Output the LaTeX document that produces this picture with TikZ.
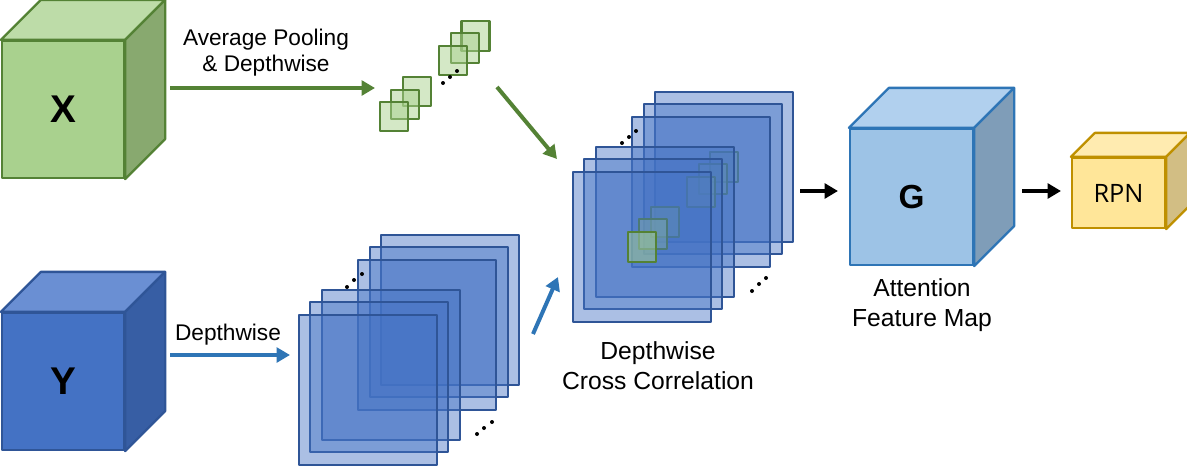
\documentclass[tikz,border=0pt]{standalone}
\usepackage{fontspec}
\setmainfont{Liberation Sans}
\newfontfamily\rpnfont{Open Sans}
\usepackage{xcolor}
\usepackage{tikz}
\usetikzlibrary{positioning,arrows.meta}

\definecolor{verdeBordo}{HTML}{548235}
\definecolor{verdeFronte}{HTML}{A9D18E}
\definecolor{verdeSopra}{HTML}{BDDCA8}
\definecolor{verdeLato}{HTML}{88A96F}
\definecolor{bluBordo}{HTML}{2F5597}
\definecolor{bluFronte}{HTML}{4472C4}
\definecolor{bluSopra}{HTML}{6A8FD3}
\definecolor{bluLato}{HTML}{375EA4}
\definecolor{azzurroBordo}{HTML}{2E75B6}
\definecolor{azzurroFronte}{HTML}{9DC3E6}
\definecolor{azzurroSopra}{HTML}{B1D0EE}
\definecolor{azzurroLato}{HTML}{7F9DB8}
\definecolor{gialloBordo}{HTML}{BF9000}
\definecolor{gialloFronte}{HTML}{FFE699}
\definecolor{gialloSopra}{HTML}{FFEBB0}
\definecolor{gialloLato}{HTML}{D2BE84}

\begin{document}
\begin{tikzpicture}[x=0.75pt, y=-0.75pt, line join=round,
    cubo/.style={draw, line width=1.7pt, inner sep=0pt, minimum width=91.5pt, minimum height=102.75pt, font=\bfseries\fontsize{29}{29}\selectfont},
    foglio/.style={draw=bluBordo, fill=bluFronte, fill opacity=0.45, line width=1.7pt, inner sep=0pt, minimum width=103.5pt, minimum height=112.5pt},
    quadretto/.style={draw=verdeBordo, fill=verdeFronte, fill opacity=0.5, line width=1.7pt, inner sep=0pt, minimum width=21pt, minimum height=22pt},
    freccia/.style={line width=3pt, -{Triangle[length=10pt,width=11pt]}},
    testo/.style={align=center, font=\fontsize{18.5}{22.5}\selectfont}]
      \useasboundingbox (0,0) rectangle (1187,468);

      % Cubo X
      \node (X) at (63,109.5) [cubo, draw=verdeBordo, fill=verdeFronte] {X};
      \path (X.north east) ++(40,-40) coordinate (X-ne);
      \path (X.south east) ++(40,-40) coordinate (X-se);
      \draw[verdeBordo, line width=1.7pt, fill=verdeSopra] (X.north west) -- ++(40,-40) -- (X-ne) -- (X.north east) -- cycle;
      \draw[verdeBordo, line width=1.7pt, fill=verdeLato] (X.north east) -- (X-ne) -- (X-se) -- (X.south east) -- cycle;

      % Cubo Y
      \node (Y) at (63,381.5) [cubo, draw=bluBordo, fill=bluFronte] {Y};
      \path (Y.north east) ++(40,-40) coordinate (Y-ne);
      \path (Y.south east) ++(40,-40) coordinate (Y-se);
      \draw[bluBordo, line width=1.7pt, fill=bluSopra] (Y.north west) -- ++(40,-40) -- (Y-ne) -- (Y.north east) -- cycle;
      \draw[bluBordo, line width=1.7pt, fill=bluLato] (Y.north east) -- (Y-ne) -- (Y-se) -- (Y.south east) -- cycle;

      % Fogli in basso
      \node (c1) at (450,310) [foglio] {};
      \node (c2) at (439,322) [foglio] {};
      \node (c3) at (427,335) [foglio] {};
      \node (c4) at (391,365) [foglio] {};
      \node (c5) at (379,377) [foglio] {};
      \node (c6) at (368,390) [foglio] {};

      % Quadretti in alto
      \node (s1) at (475.5,36) [quadretto] {};
      \node (s2) at (465,48) [quadretto] {};
      \node (s3) at (453,60.5) [quadretto] {};
      \node (s4) at (417,91.5) [quadretto] {};
      \node (s5) at (405,104.5) [quadretto] {};
      \node (s6) at (394,116.5) [quadretto] {};

      % Correlazione
      \node (m1) at (724,167) [foglio] {};
      \node (q1) at (m1) [quadretto] {};
      \node (m2) at (713,179) [foglio] {};
      \node (q2) at (m2) [quadretto] {};
      \node (m3) at (701,192) [foglio] {};
      \node (q3) at (m3) [quadretto] {};
      \node (m4) at (665,222) [foglio] {};
      \node (q4) at (m4) [quadretto] {};
      \node (m5) at (653,234) [foglio] {};
      \node (q5) at (m5) [quadretto] {};
      \node (m6) at (642,247) [foglio] {};
      \node (q6) at (m6) [quadretto] {};

      % Cubo G
      \node (G) at (911.5,197) [cubo, draw=azzurroBordo, fill=azzurroFronte, minimum width=92.25pt, minimum height=102pt, font=\bfseries\fontsize{25}{25}\selectfont] {G};
      \path (G.north east) ++(40,-40) coordinate (G-ne);
      \path (G.south east) ++(40,-40) coordinate (G-se);
      \draw[azzurroBordo, line width=1.7pt, fill=azzurroSopra] (G.north west) -- ++(40,-40) -- (G-ne) -- (G.north east) -- cycle;
      \draw[azzurroBordo, line width=1.7pt, fill=azzurroLato] (G.north east) -- (G-ne) -- (G-se) -- (G.south east) -- cycle;

      % RPN
      \node (R) at (1118.5,193) [cubo, draw=gialloBordo, fill=gialloFronte, minimum width=69.75pt, minimum height=52.5pt, font=\rpnfont\fontsize{19}{19}\selectfont] {RPN};
      \path (R.north east) ++(24,-24) coordinate (R-ne);
      \path (R.south east) ++(24,-24) coordinate (R-se);
      \draw[gialloBordo, line width=1.7pt, fill=gialloSopra] (R.north west) -- ++(24,-24) -- (R-ne) -- (R.north east) -- cycle;
      \draw[gialloBordo, line width=1.7pt, fill=gialloLato] (R.north east) -- (R-ne) -- (R-se) -- (R.south east) -- cycle;

      % Puntini
      \fill (443,83) circle (1.5pt) (450,77) circle (1.5pt) (457,71) circle (1.5pt);
      \fill (622,143) circle (1.5pt) (629,137) circle (1.5pt) (636,131) circle (1.5pt);
      \fill (752,291) circle (1.5pt) (759,284) circle (1.5pt) (766,278) circle (1.5pt);
      \fill (347,287) circle (1.5pt) (354,280) circle (1.5pt) (362,274) circle (1.5pt);
      \fill (477,434) circle (1.5pt) (484,428) circle (1.5pt) (492,422) circle (1.5pt);

      % Frecce
      \coordinate (a1) at (170,88);
      \coordinate (a2) at (375,88);
      \coordinate (a3) at (497,87);
      \coordinate (a4) at (557,159);
      \coordinate (b1) at (170,355);
      \coordinate (b2) at (290,355);
      \coordinate (b3) at (533,334);
      \coordinate (b4) at (558,277);
      \coordinate (n1) at (800,191);
      \coordinate (n2) at (838,191);
      \coordinate (n3) at (1022,191);
      \coordinate (n4) at (1061,191);
      \draw[freccia, verdeBordo] (a1) -- (a2);
      \draw[freccia, verdeBordo] (a3) -- (a4);
      \draw[freccia, azzurroBordo] (b1) -- (b2);
      \draw[freccia, azzurroBordo] (b3) -- (b4);
      \draw[freccia] (n1) -- (n2);
      \draw[freccia] (n3) -- (n4);

      % Etichette
      \node (tA) at (266,53) [testo, font=\fontsize{17}{19.5}\selectfont] {Average Pooling\\\& Depthwise};
      \node (tD) at (228,335) [testo, font=\fontsize{17}{19.5}\selectfont] {Depthwise};
      \node (tC) at (658,366) [testo] {Depthwise\\Cross Correlation};
      \node (tF) at (922,305) [testo] {Attention\\Feature Map};
    \end{tikzpicture}
\end{document}
